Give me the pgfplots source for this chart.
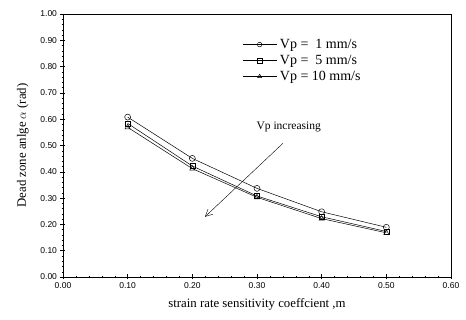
\documentclass[border=0pt]{standalone}
\usepackage{pgfplots}
\pgfplotsset{compat=1.18}
\usepackage{fontspec}
\setmainfont{Liberation Serif}
\newfontfamily\arial{Liberation Sans}
\usetikzlibrary{arrows.meta}
\begin{document}
\begin{tikzpicture}
\begin{axis}[
  at={(0,0)}, anchor=south west,
  scale only axis, width=388pt, height=263pt,
  xmin=0, xmax=0.6, ymin=0, ymax=1,
  xtick={0,0.1,...,0.6}, ytick={0,0.1,...,1},
  minor x tick num=4, minor y tick num=4,
  xtick pos=bottom, ytick pos=left,
  tick align=center,
  major tick length=5pt, minor tick length=2.5pt,
  every tick/.style={black, line width=0.5pt},
  every minor tick/.style={black, line width=0.4pt},
  /pgf/number format/assume math mode=true,
  /pgf/number format/.cd, fixed, fixed zerofill, precision=2, /pgfplots/.cd,
  tick label style={font=\arial\fontsize{8.5}{10}\selectfont},
  xlabel={strain rate sensitivity coeffcient ,m},
  ylabel={Dead zone anlge $\alpha$ (rad)},
  xlabel style={font=\fontsize{12.8}{14}\selectfont, yshift=-3pt},
  ylabel style={font=\fontsize{12.8}{14}\selectfont, yshift=5pt},
  axis line style={black, line width=0.6pt},
  legend style={at={(axis cs:0.277,0.915)}, anchor=north west, draw=none, fill=none,
    inner sep=0pt, font=\fontsize{14}{15}\selectfont, row sep=0pt,
    nodes={inner xsep=3pt, inner ysep=1.5pt, text height=10pt, text depth=3pt}},
  legend cell align=left,
  legend image code/.code={\draw[mark repeat=2,mark phase=2,mark size=2.3pt] plot coordinates {(0cm,0cm) (0.6cm,0cm) (1.2cm,0cm)};},
]
\addplot[black, line width=0.5pt, mark=o, mark size=3pt, mark options={fill=white}]
  coordinates {(0.1,0.608) (0.2,0.451) (0.3,0.337) (0.4,0.248) (0.5,0.189)};
\addlegendentry{Vp =\ \ 1 mm/s}
\addplot[black, line width=0.5pt, mark=square, mark size=2.5pt, mark options={fill=white}]
  coordinates {(0.1,0.584) (0.2,0.422) (0.3,0.308) (0.4,0.229) (0.5,0.173)};
\addlegendentry{Vp =\ \ 5 mm/s}
\addplot[black, line width=0.5pt, mark=triangle, mark size=3pt, mark options={fill=white}]
  coordinates {(0.1,0.569) (0.2,0.412) (0.3,0.303) (0.4,0.222) (0.5,0.168)};
\addlegendentry{Vp = 10 mm/s}
\draw[-{Straight Barb[length=7pt,width=7pt]}, line width=0.4pt] (axis cs:0.34,0.508) -- (axis cs:0.2196,0.229);
\node[font=\fontsize{11.5}{12}\selectfont] at (axis cs:0.349,0.571) {Vp increasing};
\end{axis}
\useasboundingbox (-63pt,-43pt) rectangle (403pt,277pt);
\end{tikzpicture}
\end{document}
